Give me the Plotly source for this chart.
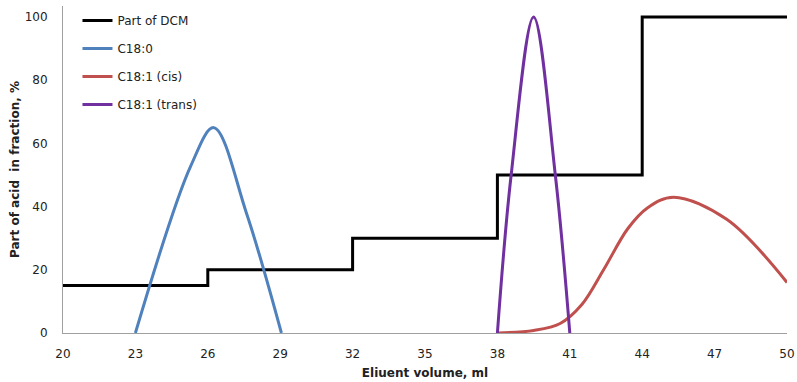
import plotly.graph_objects as go

# Part of DCM (step)
dcm_x = [20, 26, 26, 32, 32, 38, 38, 44, 44, 50]
dcm_y = [15, 15, 20, 20, 30, 30, 50, 50, 100, 100]

# C18:0
c180_x = [23, 25.3, 26.25, 27.6, 29.05]
c180_y = [0, 53, 65, 38, 0]

# C18:1 (cis)
cis_x = [38, 39.5, 40.6, 41.5, 42.4, 43.4, 44.2, 45.3, 47.5, 50]
cis_y = [0, 0.8, 3, 9, 20, 33, 39.5, 43, 36, 16]

# C18:1 (trans)
trans_x = [38, 38.57, 39.5, 40.4, 41]
trans_y = [0, 50, 100, 50, 0]

x_ticks = [20, 23, 26, 29, 32, 35, 38, 41, 44, 47, 50]
y_ticks = [0, 20, 40, 60, 80, 100]

fig = go.Figure()
fig.add_trace(go.Scatter(x=dcm_x, y=dcm_y, mode="lines", name="Part of DCM",
                         line=dict(color="#000000", width=3), legendgroup="a"))
fig.add_trace(go.Scatter(x=c180_x, y=c180_y, mode="lines", name="C18:0",
                         line=dict(color="#4F81BD", width=3, shape="spline", smoothing=1),
                         legendgroup="b"))
fig.add_trace(go.Scatter(x=cis_x, y=cis_y, mode="lines", name="C18:1 (cis)",
                         line=dict(color="#C0504D", width=3, shape="spline", smoothing=1),
                         legendgroup="c"))
fig.add_trace(go.Scatter(x=trans_x, y=trans_y, mode="lines", name="C18:1 (trans)",
                         line=dict(color="#7030A0", width=3, shape="spline", smoothing=1),
                         legendgroup="d"))

font = "DejaVu Sans, Verdana, sans-serif"
fig.update_layout(
    width=797, height=382,
    margin=dict(l=63, r=10, t=6, b=49),
    paper_bgcolor="white", plot_bgcolor="white",
    font=dict(family=font, size=12, color="#222222"),
    showlegend=True,
    legend=dict(x=0.02, y=1.0, xanchor="left", yanchor="top",
                bgcolor="rgba(0,0,0,0)", font=dict(size=12, color="#222222"),
                tracegroupgap=9, traceorder="grouped"),
    xaxis=dict(range=[20, 50], tickvals=x_ticks, showgrid=False, zeroline=False,
               showline=True, linecolor="#a0a0a0", linewidth=1, ticks="",
               automargin=False, ticklabelstandoff=10,
               title=dict(text="<b>Eliuent volume, ml</b>", font=dict(size=12, color="#222222"),
                          standoff=8)),
    yaxis=dict(range=[0, 103.5], tickvals=y_ticks, showgrid=False, zeroline=False,
               showline=True, linecolor="#a0a0a0", linewidth=1, ticks="",
               ticklabelstandoff=12, automargin=False,
               title=dict(text="<b>Part of acid  in fraction, %</b>", font=dict(size=12, color="#222222"),
                          standoff=2)),
)

fig.write_html("out.html")
